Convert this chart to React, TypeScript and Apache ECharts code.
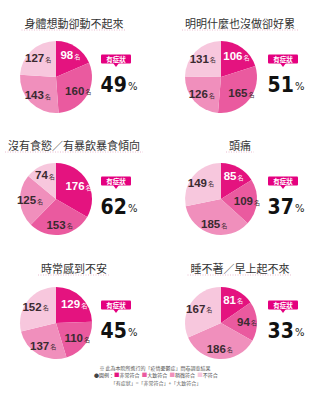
import React, { useEffect, useRef } from "react";
import * as echarts from "echarts";

const titles = [
  "身體想動卻動不起來",
  "明明什麼也沒做卻好累",
  "沒有食慾／有暴飲暴食傾向",
  "頭痛",
  "時常感到不安",
  "睡不著／早上起不來",
];
const categories = ["非常符合", "大致符合", "稍微符合", "不符合"];
const veryMuch = [98, 106, 176, 85, 129, 81];
const mostly = [160, 165, 153, 109, 110, 94];
const slightly = [143, 126, 125, 185, 137, 186];
const notAtAll = [127, 131, 74, 149, 152, 167];
const colors = ["#e4137f", "#ea5a9f", "#f08fbc", "#f7c7dd"];
const footnote = "※ 此為本院所進行的「疫情憂鬱症」問卷調查結果";
const symptomNote = "「有症狀」=「非常符合」+「大致符合」";
const badgeText = "有症狀";
const unit = "名";

const FONT = "'Noto Sans CJK TC', 'Noto Sans', sans-serif";
const colX = [56, 221];
const rowY = [77, 199, 323];
const titleY = [23, 145, 268];
const R = 36;

export default function App() {
  const ref = useRef<HTMLDivElement>(null);
  useEffect(() => {
    if (!ref.current) return;
    const chart = echarts.init(ref.current, null, { renderer: "svg" });
    const series: any[] = [];
    const graphic: any[] = [];
    titles.forEach((t, i) => {
      const col = i % 2;
      const row = Math.floor(i / 2);
      const cx = colX[col];
      const cy = rowY[row];
      const vals = [veryMuch[i], mostly[i], slightly[i], notAtAll[i]];
      const total = vals.reduce((a, b) => a + b, 0);
      const pct = Math.round(((vals[0] + vals[1]) / total) * 100);
      const data = vals.map((v, k) => ({
        name: categories[k],
        value: v,
        itemStyle: { color: colors[k] },
      }));
      series.push({
        type: "pie",
        center: [cx, cy],
        radius: R,
        startAngle: 90,
        clockwise: true,
        silent: true,
        label: { show: false },
        labelLine: { show: false },
        data,
      });
      series.push({
        type: "pie",
        center: [cx, cy],
        radius: [12, 34],
        startAngle: 90,
        clockwise: true,
        silent: true,
        labelLine: { show: false },
        data: vals.map((v, k) => ({
          name: categories[k],
          value: v,
          itemStyle: { color: "rgba(0,0,0,0)" },
          label: {
            show: true,
            position: "inside",
            formatter: "{n|{c}}{u|" + unit + "}",
            rich: {
              n: {
                fontSize: 11.5,
                fontWeight: "bold",
                fontFamily: "'Liberation Sans', Arial, sans-serif",
                color: k === 0 ? "#ffffff" : "#3a2a30",
              },
              u: {
                fontSize: 6,
                fontFamily: FONT,
                color: k === 0 ? "#ffffff" : "#3a2a30",
                padding: [2, 0, 0, 1],
              },
            },
          },
        })),
      });
      const tx = col === 0 ? 74 : 240;
      const tw = t.length * 11;
      graphic.push({
        type: "text",
        x: tx,
        y: titleY[row],
        style: {
          text: t,
          fontSize: 11,
          fontFamily: FONT,
          fill: "#333333",
          align: "center",
          verticalAlign: "middle",
        },
      });
      graphic.push({
        type: "line",
        shape: { x1: tx - tw / 2 - 3, y1: titleY[row] + 7, x2: tx + tw / 2 + 3, y2: titleY[row] + 7 },
        style: { stroke: "#e9bcd0", lineWidth: 1, lineDash: [1, 1.5] },
      });
      const bx = col === 0 ? 116 : 283;
      const by = cy - 18;
      graphic.push({
        type: "rect",
        shape: { x: bx - 15, y: by - 4.5, width: 30, height: 9, r: 1 },
        style: { fill: "#e4007f" },
      });
      graphic.push({
        type: "polygon",
        shape: { points: [[bx - 3, by + 4], [bx + 3, by + 4], [bx, by + 8]] },
        style: { fill: "#e4007f" },
      });
      graphic.push({
        type: "text",
        x: bx,
        y: by,
        style: {
          text: badgeText,
          fontSize: 6.5,
          fontWeight: "bold",
          fontFamily: FONT,
          fill: "#ffffff",
          align: "center",
          verticalAlign: "middle",
        },
      });
      graphic.push({
        type: "text",
        x: bx + 3,
        y: cy + 8,
        style: {
          text: "{d|" + pct + "}{p|%}",
          align: "center",
          verticalAlign: "middle",
          rich: {
            d: {
              fontSize: 21,
              fontWeight: "bold",
              fontFamily: "'DejaVu Sans Condensed', 'DejaVu Sans', sans-serif",
              fill: "#111111",
            },
            p: {
              fontSize: 10,
              fontFamily: "'DejaVu Sans', sans-serif",
              fill: "#222222",
              padding: [3, 0, 0, 1],
            },
          },
        },
      });
    });
    graphic.push({
      type: "text",
      x: 155,
      y: 367,
      style: { text: footnote, fontSize: 5, fontFamily: FONT, fill: "#555555", align: "center", verticalAlign: "middle" },
    });
    const legendRich: any = {
      t: { fontSize: 5, fontFamily: FONT, fill: "#444444" },
    };
    let legendText = "{t|●圖例：}";
    categories.forEach((c, k) => {
      legendRich["s" + k] = { fontSize: 5.5, fontFamily: FONT, fill: colors[k] };
      legendText += "{s" + k + "|■}{t|" + c + "  }";
    });
    graphic.push({
      type: "text",
      x: 157,
      y: 374.5,
      style: { text: legendText, rich: legendRich, align: "center", verticalAlign: "middle" },
    });
    graphic.push({
      type: "text",
      x: 156,
      y: 382,
      style: { text: symptomNote, fontSize: 5, fontFamily: FONT, fill: "#555555", align: "center", verticalAlign: "middle" },
    });
    chart.setOption({
      animation: false,
      backgroundColor: "#ffffff",
      series,
      graphic,
    });
    return () => chart.dispose();
  }, []);
  return (
    <div
      ref={ref}
      style={{ position: "fixed", left: 0, top: 0, width: 320, height: 396 }}
    />
  );
}
